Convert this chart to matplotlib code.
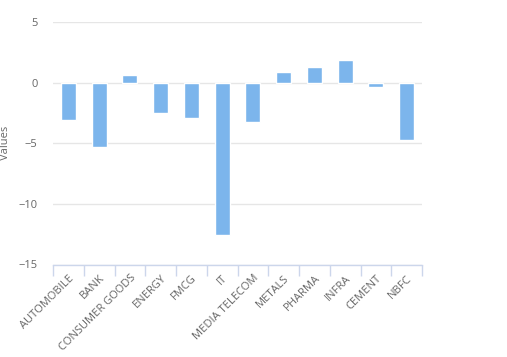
import matplotlib
matplotlib.use("Agg")
import matplotlib.pyplot as plt
import numpy as np

categories = ["AUTOMOBILE", "BANK", "CONSUMER GOODS", "ENERGY", "FMCG", "IT",
              "MEDIA TELECOM", "METALS", "PHARMA", "INFRA", "CEMENT", "NBFC"]
values = [-3.05, -5.33, 0.66, -2.47, -2.89, -12.53, -3.21, 0.91, 1.32, 1.9, -0.33, -4.7]
yticks = [-15, -10, -5, 0, 5]

plt.rcParams['font.family'] = ['Open Sans', 'DejaVu Sans']

fig = plt.figure(figsize=(5.07, 3.57), dpi=100)
ax = fig.add_axes([53/507, 1 - 264.5/357, 369/507, (264.5 - 22)/357])

for s in ['top', 'right', 'left']:
    ax.spines[s].set_visible(False)
ax.spines['bottom'].set_color('#ccd6eb')
ax.spines['bottom'].set_linewidth(1)

x = np.arange(len(categories))
ax.bar(x, values, width=0.48, color='#7cb5ec', edgecolor='white', linewidth=1, zorder=3)

ax.set_xlim(-0.5, len(categories) - 0.5)
ax.set_ylim(-15, 5)
ax.set_yticks(yticks)
ax.set_yticklabels([str(t).replace('-', '\u2212') for t in yticks], color='#666666', fontsize=8)
ax.yaxis.grid(True, color='#e6e6e6', linewidth=1, zorder=0)
ax.tick_params(axis='y', length=0, pad=11)

ax.set_xticks(x)
ax.set_xticklabels(categories, rotation=45, ha='right', rotation_mode='anchor',
                   color='#666666', fontsize=8)
ax.tick_params(axis='x', which='major', length=0, pad=6)
ax.set_xticks(np.arange(len(categories) + 1) - 0.5, minor=True)
ax.tick_params(axis='x', which='minor', length=8, color='#ccd6eb', width=1)

ax.set_ylabel('Values', color='#666666', fontsize=8)
ax.yaxis.set_label_coords(-0.115, 0.5)

fig.savefig('out.png', dpi=100, facecolor='white')
